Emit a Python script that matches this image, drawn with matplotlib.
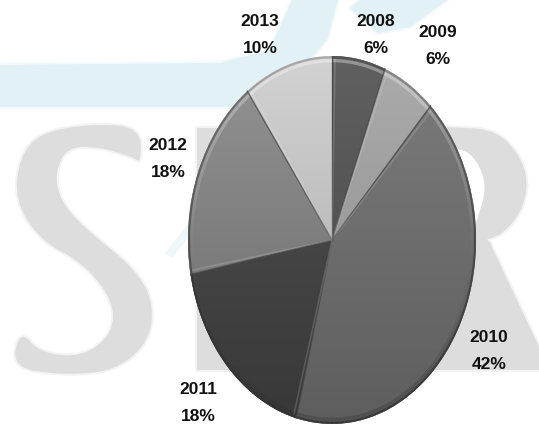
import numpy as np
import matplotlib
matplotlib.use("Agg")
import matplotlib.pyplot as plt
from matplotlib.colors import to_rgb
from matplotlib.collections import LineCollection
from matplotlib.patches import Polygon

years = ["2008", "2009", "2010", "2011", "2012", "2013"]
shares = [6, 6, 42, 18, 18, 10]
share_labels = ["6%", "6%", "42%", "18%", "18%", "10%"]
slice_tops = ["#606060", "#ababab", "#7c7c7c", "#525252", "#939393", "#d2d2d2"]
slice_bottoms = ["#444444", "#8c8c8c", "#5e5e5e", "#383838", "#6a6a6a", "#a8a8a8"]
label_px = [(376, 35), (438, 46), (489, 351), (198, 403), (168, 159), (260, 35)]

W, H = 539, 425
fig = plt.figure(figsize=(W / 100, H / 100), dpi=100, facecolor="white")

bg = fig.add_axes([0, 0, 1, 1], zorder=0)
bg.set_xlim(0, W); bg.set_ylim(H, 0); bg.axis("off")

CYAN = "#e1f1f6"; GREY = "#dddddd"

def smooth(pts, n=3):
    p = np.array(pts, float)
    for _ in range(n):
        q = np.roll(p, -1, axis=0)
        p = np.column_stack([0.75 * p + 0.25 * q, 0.25 * p + 0.75 * q]).reshape(-1, 2)
    return p

def blob(pts, color, soft=True, n=0):
    p = smooth(pts, n) if n else np.array(pts, float)
    if soft:
        bg.add_patch(Polygon(p, closed=True, fc=color, ec=color, lw=3, alpha=0.35, joinstyle="round"))
    bg.add_patch(Polygon(p, closed=True, fc=color, ec="none"))

# watermark: swoosh
blob([(0, 65), (220, 63), (270, 50), (292, 0), (338, 0), (327, 40), (305, 65), (270, 90),
      (240, 107), (0, 107)], CYAN)
blob([(350, 8), (360, 0), (447, 0), (410, 27), (378, 33)], CYAN)
blob([(165, 253), (190, 222), (196, 228), (172, 258)], "#eef7fa", soft=False)
# watermark: S
blob([(40, 133), (90, 124), (140, 127), (141, 163), (133, 157), (100, 147), (67, 147),
      (55, 173), (60, 200), (83, 227), (133, 267), (153, 300), (150, 340), (117, 370),
      (67, 375), (12, 368), (20, 330), (40, 353), (83, 357), (113, 333), (113, 300),
      (83, 263), (40, 240), (15, 200), (20, 157)], GREY, n=2)
# watermark: hidden middle letter stem and R
blob([(197, 128), (320, 128), (320, 370), (197, 370)], GREY)
blob(np.vstack([smooth([(400, 127), (450, 127), (497, 130), (523, 160), (528, 190), (517, 220),
                        (490, 243), (400, 243)], 2),
                [(490, 243), (539, 347), (539, 370), (400, 370)]]), GREY)
blob([(400, 147), (460, 147), (477, 160), (487, 187), (477, 220), (473, 233), (400, 233)],
     "white", soft=False, n=2)

# pie
L, R, T, B = 188, 476, 56, 424
ax = fig.add_axes([L / W, 1 - B / H, (R - L) / W, (B - T) / H], zorder=1)
wedges, _ = ax.pie(shares, startangle=90, counterclock=False, radius=1, colors=slice_tops,
                   wedgeprops=dict(edgecolor="none"))
ax.set_aspect("auto")

for w, c0, c1 in zip(wedges, slice_tops, slice_bottoms):
    a, b = np.array(to_rgb(c0)), np.array(to_rgb(c1))
    t = np.linspace(0, 1, 128)[:, None, None]
    im = ax.imshow(a[None, None, :] * (1 - t) + b[None, None, :] * t, extent=(-1, 1, -1, 1),
                   aspect="auto", zorder=2, origin="upper", interpolation="bilinear")
    im.set_clip_path(w)

# bevel: light from above, dark below, plus a soft inner rim
th = np.radians(np.linspace(0, 360, 361))
s = np.sin(th[:-1])
for r, lw, base_col, alpha_fn in [
    (0.993, 1.6, "#333333", lambda v: 0.25 + 0.65 * (1 - v) / 2),
    (0.975, 2.4, "#ffffff", lambda v: 0.03 + 0.32 * np.clip(v, 0, 1)),
    (0.975, 2.4, "#222222", lambda v: 0.30 * np.clip(-v, 0, 1)),
]:
    x, y = r * np.cos(th), r * np.sin(th)
    segs = np.stack([np.column_stack([x[:-1], y[:-1]]), np.column_stack([x[1:], y[1:]])], axis=1)
    cols = np.tile(np.array(to_rgb(base_col) + (1.0,)), (len(segs), 1))
    cols[:, 3] = alpha_fn(s)
    ax.add_collection(LineCollection(segs, colors=cols, linewidths=lw, zorder=3))

for w in wedges:
    c, sn = np.cos(np.radians(w.theta1)), np.sin(np.radians(w.theta1))
    ax.plot([0, c], [0, sn], color="#444444", lw=1.0, alpha=0.75, zorder=4)
    c2, s2 = np.cos(np.radians(w.theta1 - 1.2)), np.sin(np.radians(w.theta1 - 1.2))
    ax.plot([0, 0.98 * c2], [0, 0.98 * s2], color="white", lw=1.2, alpha=0.15, zorder=4)

ax.set_xlim(-1, 1); ax.set_ylim(-1, 1)
ax.patch.set_alpha(0)

for y, sl, (px, py) in zip(years, share_labels, label_px):
    fig.text(px / W, 1 - py / H, f"{y}\n{sl}", ha="center", va="center", fontsize=12.5,
             fontweight="bold", family="Liberation Sans", color="#111111",
             linespacing=1.95, zorder=10)

fig.savefig("out.png", dpi=100)
